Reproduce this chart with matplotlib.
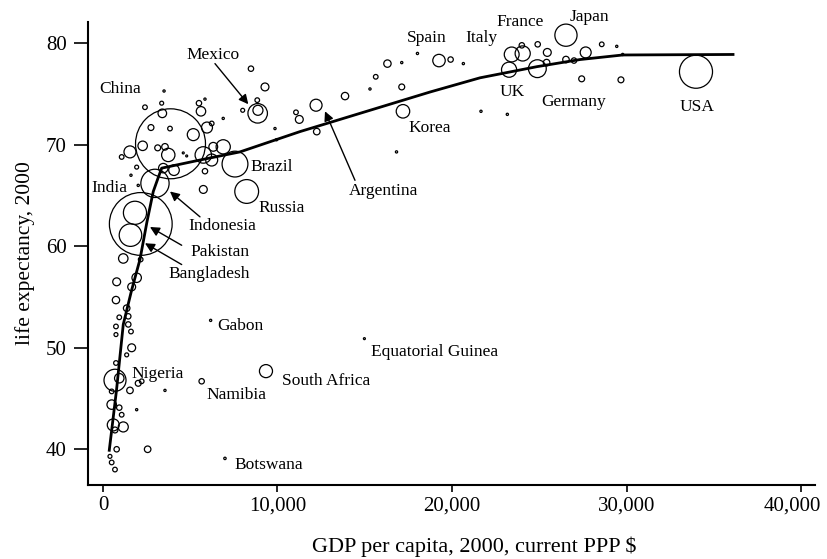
import matplotlib
matplotlib.use("Agg")
import matplotlib.pyplot as plt
from matplotlib.ticker import FuncFormatter
from matplotlib.transforms import ScaledTranslation

plt.rcParams['font.family'] = ['Liberation Serif', 'DejaVu Serif']

# GDP per capita (PPP $), life expectancy (years), population (millions)
gdp = [3870, 2166, 2980, 1834, 1576, 7565, 8235, 8865, 12210, 17190,
       19255, 23420, 24050, 26530, 23270, 24890, 33980, 690, 9340, 6170,
       5655, 14980, 6990,
       8480, 9284, 8840, 8880, 8006, 11060, 11250, 12250, 9857, 9943,
       13870, 15300, 15630, 16300, 17120, 18020, 17120, 16820, 19920, 20650,
       21660, 23170, 25460, 27660, 24000, 24910, 28580, 29440, 25420, 26530,
       26990, 27430, 29680, 29780,
       6890, 5845, 5500, 5616, 6230, 5175, 5960, 6890, 6320, 5845,
       5750, 3500, 2407, 3364, 3400, 2750, 3840, 2275, 1547, 3135,
       3553, 1072, 1931, 1605, 4600, 4797, 3742, 5750, 6230, 4070,
       3456, 2020,
       1163, 2160, 785, 1931, 1645, 745, 1358, 934, 1450, 745,
       745, 1450, 1605, 1645, 1358, 745, 934, 2020, 2218, 1547,
       3553, 499, 499, 934, 1072, 1931, 590, 1163, 688, 785,
       2560, 401, 499, 688]
life = [70.1, 62.2, 66.2, 63.3, 61.1, 68.1, 65.4, 73.1, 73.9, 73.3,
        78.3, 78.9, 79.0, 80.8, 77.4, 77.5, 77.2, 46.8, 47.7, 52.7,
        46.7, 50.9, 39.1,
        77.5, 75.7, 74.4, 73.4, 73.4, 73.2, 72.5, 71.3, 71.6, 70.5,
        74.8, 75.5, 76.7, 78.0, 78.1, 79.0, 75.7, 69.3, 78.4, 78.0,
        73.3, 73.0, 79.1, 79.1, 79.8, 79.9, 79.9, 79.7, 78.1, 78.4,
        78.3, 76.5, 76.4, 78.9,
        72.6, 74.5, 74.1, 73.3, 72.1, 71.0, 71.7, 69.8, 69.8, 67.4,
        65.6, 75.3, 73.7, 74.1, 73.1, 71.7, 71.6, 69.9, 69.3, 69.7,
        69.8, 68.8, 67.8, 67.0, 69.2, 68.9, 69.0, 69.0, 68.5, 67.5,
        67.7, 66.0,
        58.8, 58.7, 56.5, 56.9, 56.0, 54.7, 53.9, 53.0, 53.1, 52.1,
        51.3, 52.3, 51.6, 50.0, 49.3, 48.5, 47.0, 46.5, 46.7, 45.8,
        45.8, 45.7, 44.4, 44.1, 43.4, 43.9, 42.4, 42.2, 41.9, 40.0,
        40.0, 39.3, 38.7, 38.0]
pop = [1262, 1016, 206, 138, 131, 172, 146, 98, 37, 47,
       40, 57, 59, 127, 59, 82, 282, 125, 44, 1.3,
       7.5, 1.0, 1.5,
       7.5, 16, 5.5, 26, 4, 5.5, 16, 11, 1.3, 1.3,
       14, 1.3, 5.5, 14, 1.3, 1.3, 9, 1.3, 7.5, 1.3,
       1.3, 1.3, 16, 31, 7.5, 7.5, 5.5, 1.3, 11, 11,
       7.5, 9, 9, 1.3,
       1.3, 1.3, 7.5, 23, 5.5, 37, 31, 52, 20, 7.5,
       16, 1.3, 5.5, 4, 19, 9, 5.5, 23, 37, 9,
       11, 5.5, 4, 1.3, 1.0, 1.0, 46, 70, 37, 29,
       23, 1.3,
       23, 5.5, 16, 23, 16, 14, 11, 5.5, 7.5, 5.5,
       4, 7.5, 5.5, 16, 4, 5.5, 23, 9, 5.5, 11,
       1.3, 5.5, 23, 7.5, 5.5, 1.3, 37, 26, 9, 7.5,
       11, 4, 5.5, 5.5]

# fitted curve
curve_gdp = [361, 774, 1163, 1645, 2120, 2520, 2883, 3152, 3364, 5559,
             7851, 11289, 12819, 15874, 18739, 21605, 24871, 27335, 29782, 36103]
curve_life = [39.9, 45.8, 52.3, 55.7, 58.7, 62.4, 65.4, 66.7, 67.7, 68.5,
              69.3, 71.3, 72.1, 73.7, 75.2, 76.6, 77.7, 78.4, 78.85, 78.9]

# country labels: text, x, y, horizontal alignment
labels = [("China", 974, 75.5, "center"), ("India", 1375, 65.75, "right"),
          ("Brazil", 8424, 67.86, "left"), ("Russia", 8883, 63.77, "left"),
          ("Korea", 17479, 71.7, "left"), ("Spain", 18567, 80.5, "center"),
          ("Italy", 21702, 80.5, "center"), ("France", 23897, 82.1, "center"),
          ("Japan", 27851, 82.6, "center"), ("UK", 23467, 75.2, "center"),
          ("Germany", 26991, 74.25, "center"), ("USA", 34020, 73.75, "center"),
          ("Nigeria", 1645, 47.4, "left"), ("Gabon", 6533, 52.15, "left"),
          ("Namibia", 5940, 45.35, "left"), ("South Africa", 10240, 46.68, "left"),
          ("Equatorial Guinea", 15358, 49.6, "left"), ("Botswana", 7507, 38.46, "left")]

# labels with arrows: text, text x, text y, alignment, arrow tail, arrow head
arrows = [("Mexico", 6332, 78.85, "center", (6418, 78.0), (8327, 74.0)),
          ("Argentina", 16074, 65.45, "center", (14441, 66.5), (12722, 73.3)),
          ("Indonesia", 4870, 62.0, "left", (5559, 62.9), (3840, 65.4)),
          ("Pakistan", 4986, 59.44, "left", (4510, 60.1), (2693, 61.9)),
          ("Bangladesh", 3725, 57.27, "left", (4510, 58.2), (2407, 60.3))]

fig = plt.figure(figsize=(8.27, 5.59), dpi=100)
ax = fig.add_axes([0.106, 0.1324, 0.8795, 0.8288])

sizes = [2.01 * p for p in pop]
ax.scatter(gdp, life, s=sizes, facecolors='none', edgecolors='black',
           linewidths=0.9, zorder=2)
ax.plot(curve_gdp, curve_life, color='black', lw=2.0, zorder=3,
        solid_joinstyle='round')

for name, x, y, ha in labels:
    ax.text(x, y, name, ha=ha, va='center', fontsize=12.5)

for name, x, y, ha, tail, head in arrows:
    ax.text(x, y, name, ha=ha, va='center', fontsize=12.5)
    ax.annotate('', xy=head, xytext=tail,
                arrowprops=dict(arrowstyle='-|>', color='black', lw=1.0,
                                mutation_scale=14, shrinkA=0, shrinkB=0),
                zorder=4)

ax.set_xlim(-877, 40800)
ax.set_ylim(36.48, 82.13)
ax.set_xticks([0, 10000, 20000, 30000, 40000])
ax.set_yticks([40, 50, 60, 70, 80])
ax.xaxis.set_major_formatter(FuncFormatter(lambda v, p: f"{int(v):,}"))
ax.spines['top'].set_visible(False)
ax.spines['right'].set_visible(False)
ax.spines['left'].set_linewidth(1.5)
ax.spines['bottom'].set_linewidth(1.5)
ax.tick_params(direction='out', width=1.2, labelsize=15)
ax.tick_params(axis='x', length=5, pad=3)
ax.tick_params(axis='y', length=10, pad=5)

# nudge the last x tick label so it stays inside the figure
last = ax.get_xticklabels()[-1]
last.set_transform(last.get_transform() + ScaledTranslation(-6 / 72, 0, fig.dpi_scale_trans))

ax.set_xlabel("GDP per capita, 2000, current PPP $", fontsize=16)
ax.xaxis.set_label_coords(0.532, -0.112)
ax.set_ylabel("life expectancy, 2000", fontsize=15.5, labelpad=8)

fig.savefig("out.png", dpi=100)
